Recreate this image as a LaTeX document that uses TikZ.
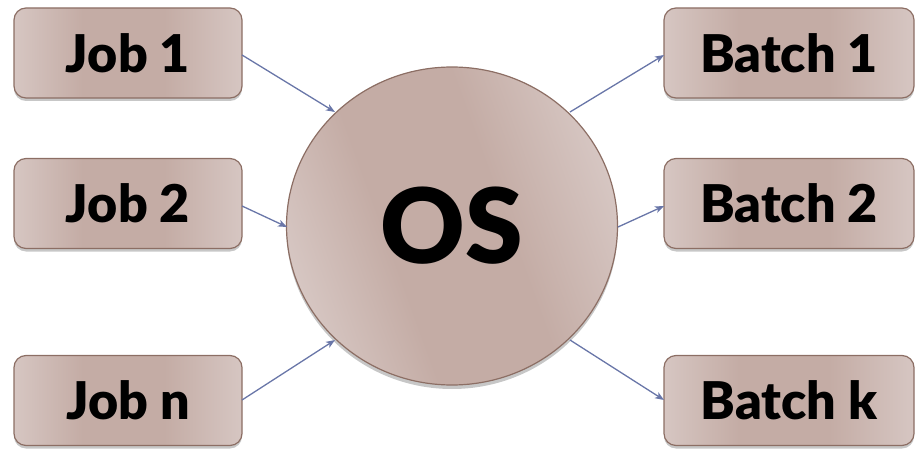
\documentclass[tikz,border=0pt]{standalone}
\usepackage{fontspec}
\setmainfont{Lato}[BoldFont=Lato Black]
\usetikzlibrary{arrows.meta,shapes.geometric,shadows}
\definecolor{boxlight}{RGB}{214,198,194}
\definecolor{boxdark}{RGB}{196,172,165}
\definecolor{boxedge}{RGB}{140,110,100}
\definecolor{arrowcol}{RGB}{105,118,168}
\pgfdeclarehorizontalshading{boxshade}{100bp}{%
  color(0bp)=(boxlight); color(25bp)=(boxlight); color(40bp)=(boxdark);
  color(58bp)=(boxdark); color(75bp)=(boxlight); color(100bp)=(boxlight)}
\tikzset{
  jobbox/.style={draw=boxedge, line width=1.2pt, rounded corners=12pt,
    shading=boxshade,
    minimum width=228pt, minimum height=90pt,
    font=\fontsize{52}{60}\selectfont\bfseries, text=black,
    drop shadow={shadow xshift=0pt, shadow yshift=-3pt, opacity=0.22, fill=black}},
  batchbox/.style={jobbox, minimum width=250pt},
  osnode/.style={ellipse, draw=boxedge, line width=1.2pt,
    shading=boxshade, shading angle=20,
    minimum width=331pt, minimum height=318pt, inner sep=0pt,
    font=\fontsize{104}{110}\selectfont\bfseries, text=black,
    drop shadow={shadow xshift=0pt, shadow yshift=-4pt, opacity=0.22, fill=black}},
  link/.style={draw=arrowcol, line width=1.3pt, -{Stealth[length=9pt,width=7pt,inset=2.5pt]}}
}
\begin{document}
\begin{tikzpicture}[x=1pt,y=-1pt]
\useasboundingbox (0,0) rectangle (915,449);
\node[jobbox] (j1) at (128,53) {Job 1};
\node[jobbox] (j2) at (128,203.5) {Job 2};
\node[jobbox] (jn) at (128,400.5) {Job n};
\node[batchbox] (b1) at (789,53) {Batch 1};
\node[batchbox] (b2) at (789,203.5) {Batch 2};
\node[batchbox] (bk) at (789,400.5) {Batch k};
\node[osnode] (os) at (452,226) {OS};
\coordinate (j1s) at (242,55);
\coordinate (j2s) at (242,206);
\coordinate (jns) at (242,400);
\coordinate (b1e) at (664,55);
\coordinate (b2e) at (664,206);
\coordinate (bke) at (664,400);
\coordinate (os1) at (335,112);
\coordinate (os2) at (287,227);
\coordinate (osn) at (335,340);
\coordinate (osb1) at (570,112);
\coordinate (osb2) at (618,227);
\coordinate (osbk) at (570,340);
\draw[link] (j1s) -- (os1);
\draw[link] (j2s) -- (os2);
\draw[link] (jns) -- (osn);
\draw[link] (osb1) -- (b1e);
\draw[link] (osb2) -- (b2e);
\draw[link] (osbk) -- (bke);
\end{tikzpicture}
\end{document}
